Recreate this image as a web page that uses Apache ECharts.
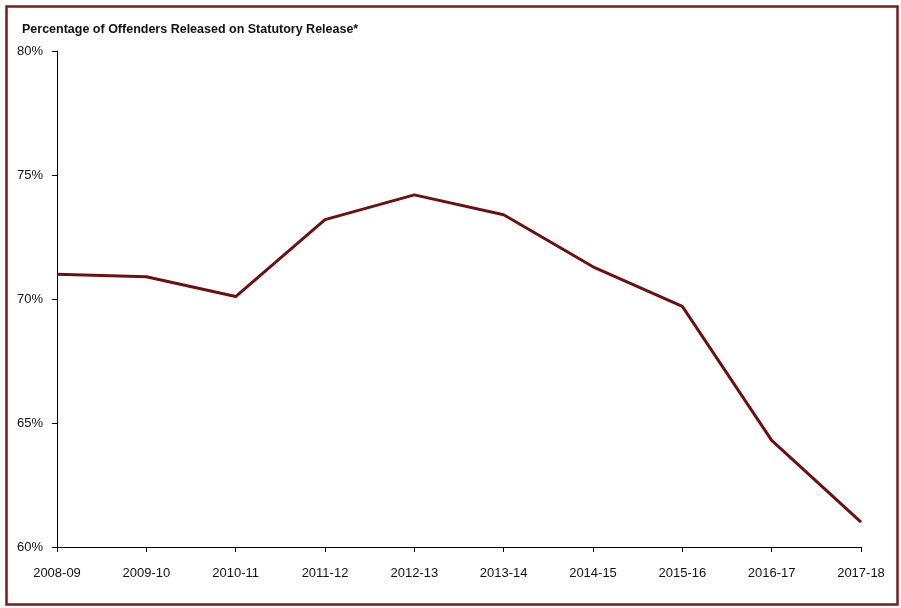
<!DOCTYPE html>
<html><head><meta charset="utf-8">
<script src="https://cdn.jsdelivr.net/npm/echarts@6/dist/echarts.min.js"></script>
<style>html,body{margin:0;padding:0;background:#fff}#c{width:901px;height:608px}</style>
</head><body><div id="c"></div>
<script>
var categories = ['2008-09','2009-10','2010-11','2011-12','2012-13','2013-14','2014-15','2015-16','2016-17','2017-18'];
var values = [71.0, 70.9, 70.1, 73.2, 74.2, 73.4, 71.3, 69.7, 64.3, 61.0];
var titleText = 'Percentage of Offenders Released on Statutory Release*';

var chart = echarts.init(document.getElementById('c'));
chart.setOption({
  animation: false,
  backgroundColor: '#fff',
  title: {
    text: titleText, left: 17, top: 18,
    textStyle: {fontFamily: 'Liberation Sans, Arial', fontSize: 12.5, fontWeight: 'bold', color: '#111'}
  },
  graphic: [{
    type: 'rect', left: 4, top: 4, silent: true,
    shape: {width: 891, height: 598},
    style: {fill: 'none', stroke: '#7a1c1c', lineWidth: 2.5}
  }],
  grid: {left: 57, right: 40, top: 51, bottom: 61, containLabel: false},
  xAxis: {
    type: 'category', data: categories, boundaryGap: false,
    axisLine: {lineStyle: {color: '#000', width: 1}},
    axisTick: {show: true, alignWithLabel: true, length: 5, lineStyle: {color: '#000'}},
    axisLabel: {color: '#111', fontFamily: 'Liberation Sans, Arial', fontSize: 13, margin: 20},
    splitLine: {show: false}
  },
  yAxis: {
    type: 'value', min: 60, max: 80, interval: 5,
    axisLine: {show: true, lineStyle: {color: '#000', width: 1}},
    axisTick: {show: true, length: 5, lineStyle: {color: '#000'}},
    axisLabel: {color: '#111', fontFamily: 'Liberation Sans, Arial', fontSize: 13, margin: 14, formatter: '{value}%'},
    splitLine: {show: false}
  },
  series: [{
    type: 'line', data: values, symbol: 'none',
    lineStyle: {color: '#6e0f12', width: 3},
    itemStyle: {color: '#6e0f12'}
  }]
});
</script></body></html>
